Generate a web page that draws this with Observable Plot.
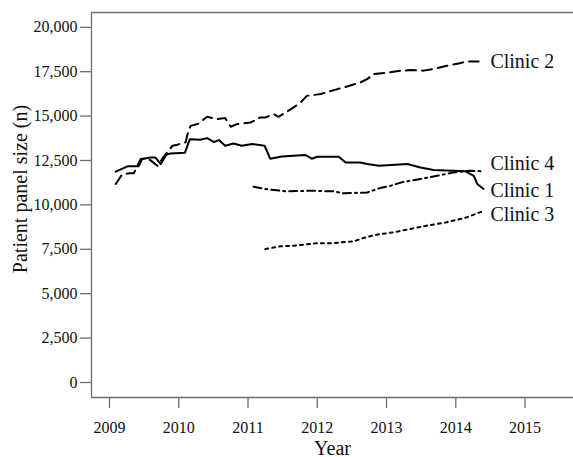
<!DOCTYPE html>
<html>
<head>
<meta charset="utf-8">
<script src="https://cdn.jsdelivr.net/npm/d3@7"></script>
<script src="https://cdn.jsdelivr.net/npm/@observablehq/plot@0.6"></script>
<style>
  html, body { margin: 0; padding: 0; background: #fff; }
</style>
</head>
<body>
<div id="chart"></div>
<script>
// ---- Data ----
const years1 = [2009.09, 2009.26, 2009.42, 2009.47, 2009.59, 2009.66, 2009.74, 2009.82, 2009.88, 2010.09, 2010.16, 2010.31, 2010.41, 2010.51, 2010.58, 2010.67, 2010.79, 2010.91, 2011.06, 2011.24, 2011.32, 2011.49, 2011.83, 2011.92, 2012.00, 2012.31, 2012.41, 2012.62, 2012.72, 2012.89, 2013.30, 2013.49, 2013.68, 2014.14, 2014.26, 2014.31, 2014.40];
const values1 = [11870, 12170, 12170, 12580, 12670, 12670, 12300, 12825, 12900, 12940, 13700, 13670, 13760, 13540, 13650, 13330, 13460, 13330, 13425, 13330, 12600, 12730, 12810, 12600, 12710, 12710, 12390, 12390, 12300, 12210, 12300, 12110, 11960, 11890, 11640, 11180, 10900];

const years2 = [2009.09, 2009.18, 2009.28, 2009.35, 2009.45, 2009.52, 2009.59, 2009.69, 2009.80, 2009.91, 2009.98, 2010.10, 2010.12, 2010.17, 2010.27, 2010.41, 2010.55, 2010.67, 2010.75, 2010.84, 2011.04, 2011.17, 2011.25, 2011.37, 2011.44, 2011.66, 2011.76, 2011.85, 2012.05, 2012.24, 2012.38, 2012.62, 2012.72, 2012.81, 2013.01, 2013.20, 2013.34, 2013.54, 2013.68, 2013.87, 2014.04, 2014.16, 2014.33];
const values2 = [11180, 11700, 11775, 11775, 12580, 12600, 12520, 12200, 12800, 13330, 13390, 13520, 13890, 14450, 14550, 14960, 14830, 14890, 14400, 14550, 14640, 14920, 14920, 15110, 14960, 15490, 15770, 16140, 16240, 16460, 16610, 16890, 17080, 17360, 17450, 17550, 17590, 17560, 17650, 17830, 17960, 18075, 18075];

const years3 = [2011.25, 2011.47, 2011.66, 2012.00, 2012.19, 2012.53, 2012.67, 2012.86, 2013.10, 2013.34, 2013.58, 2013.87, 2014.16, 2014.40];
const values3 = [7520, 7670, 7700, 7840, 7840, 7950, 8140, 8325, 8455, 8640, 8830, 9020, 9300, 9660];

const years4 = [2011.08, 2011.25, 2011.56, 2011.90, 2012.24, 2012.38, 2012.72, 2012.91, 2013.06, 2013.22, 2013.49, 2013.73, 2013.97, 2014.21, 2014.40];
const values4 = [11025, 10895, 10760, 10800, 10760, 10650, 10700, 10950, 11080, 11270, 11460, 11640, 11830, 11925, 11890];

const clinicNames = ["Clinic 1", "Clinic 2", "Clinic 3", "Clinic 4"];
const labelYear = 2014.5;
const labelValues = [10800, 18056, 9450, 12320];

const xTicks = [2009, 2010, 2011, 2012, 2013, 2014, 2015];
const yTicks = [0, 2500, 5000, 7500, 10000, 12500, 15000, 17500, 20000];
const xDomain = [2008.74, 2015.70];
const yDomain = [-845, 20833];

const xTitle = "Year";
const yTitle = "Patient panel size (n)";

// ---- Build tables ----
const series = [
  {name: clinicNames[0], years: years1, values: values1, dash: null},
  {name: clinicNames[1], years: years2, values: values2, dash: "10,6"},
  {name: clinicNames[2], years: years3, values: values3, dash: "3,4"},
  {name: clinicNames[3], years: years4, values: values4, dash: "8,4,2,4"}
];
const labels = clinicNames.map((n, i) => ({name: n, year: labelYear, value: labelValues[i]}));

const lineMarks = series.map(s =>
  Plot.line(s.years.map((y, i) => ({year: y, value: s.values[i]})), {
    x: "year", y: "value", stroke: "#000", strokeWidth: 2,
    strokeDasharray: s.dash || undefined, curve: "linear"
  })
);

const font = "'Liberation Serif', 'Times New Roman', serif";
const axisColor = "#6e6e6e";

const chart = Plot.plot({
  width: 573,
  height: 457,
  marginLeft: 91,
  marginRight: 0,
  marginTop: 12,
  marginBottom: 60,
  style: {fontFamily: font, fontSize: "16px", color: "#111", background: "#fff"},
  x: {domain: xDomain, label: null},
  y: {domain: yDomain, label: null},
  marks: [
    Plot.ruleX([xDomain[0]], {stroke: axisColor, strokeWidth: 1.3}),
    Plot.ruleY([yDomain[0]], {stroke: axisColor, strokeWidth: 1.3}),
    Plot.ruleY([yDomain[1]], {stroke: axisColor, strokeWidth: 1.3}),
    Plot.axisX({ticks: xTicks, tickFormat: d => String(d), tickSize: 11, tickPadding: 13, fontSize: 16, stroke: axisColor, strokeWidth: 1.3, fill: "#111", label: null}),
    Plot.axisY({ticks: yTicks, tickFormat: d3.format(","), tickSize: 11, tickPadding: 3, fontSize: 16, stroke: axisColor, strokeWidth: 1.3, fill: "#111", label: null}),
    ...lineMarks,
    Plot.text(labels, {x: "year", y: "value", text: "name", textAnchor: "start", lineAnchor: "middle", fontSize: 20, fill: "#111"}),
    Plot.text([xTitle], {frameAnchor: "bottom", dy: 57, fontSize: 20, fill: "#111", lineAnchor: "bottom", textAnchor: "middle"}),
    Plot.text([yTitle], {frameAnchor: "left", dx: -71, dy: -16, rotate: -90, fontSize: 20, fill: "#111", lineAnchor: "middle", textAnchor: "middle"})
  ]
});
document.getElementById("chart").appendChild(chart);
</script>
</body>
</html>
